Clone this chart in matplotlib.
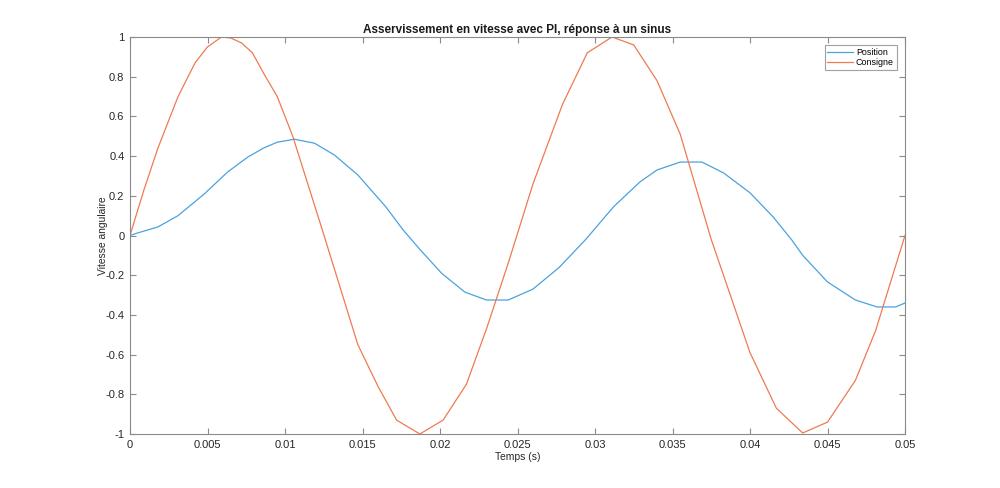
import matplotlib
matplotlib.use("Agg")
import matplotlib.pyplot as plt

# Data
t_pos = [0, 0.0005, 0.0018, 0.0031, 0.0048, 0.0063, 0.0076, 0.0086, 0.0095, 0.0106,
         0.0119, 0.0132, 0.0147, 0.0165, 0.0176, 0.0187, 0.0201, 0.0216, 0.0230, 0.0244,
         0.0260, 0.0277, 0.0294, 0.0312, 0.0329, 0.0340, 0.0355, 0.0369, 0.0383, 0.0400,
         0.0415, 0.0427, 0.0434, 0.0450, 0.0468, 0.0482, 0.0494, 0.0500]
position = [0, 0.013, 0.043, 0.10, 0.21, 0.32, 0.395, 0.44, 0.47, 0.485,
            0.465, 0.405, 0.305, 0.145, 0.03, -0.07, -0.19, -0.285, -0.325, -0.325,
            -0.27, -0.16, -0.02, 0.145, 0.27, 0.33, 0.37, 0.37, 0.315, 0.215,
            0.093, -0.023, -0.10, -0.234, -0.325, -0.36, -0.36, -0.34]

t_cons = [0, 0.0009, 0.0018, 0.0031, 0.0042, 0.0050, 0.0059, 0.0065, 0.0072, 0.0079, 0.0086,
          0.0095, 0.0105, 0.0124, 0.0147, 0.0160, 0.0172, 0.0187, 0.0202, 0.0217, 0.0230,
          0.0244, 0.0260, 0.0279, 0.0295, 0.0311, 0.0325, 0.0340, 0.0355, 0.0375, 0.0400,
          0.0417, 0.0434, 0.0450, 0.0468, 0.0481, 0.0500]
consigne = [0, 0.23, 0.44, 0.70, 0.87, 0.95, 1.0, 0.995, 0.97, 0.92, 0.82,
            0.70, 0.50, 0.03, -0.55, -0.76, -0.93, -1.0, -0.93, -0.75, -0.47,
            -0.14, 0.26, 0.66, 0.92, 1.0, 0.96, 0.78, 0.51, -0.02, -0.59,
            -0.87, -0.995, -0.94, -0.73, -0.48, 0.0]

xticks = [0, 0.005, 0.01, 0.015, 0.02, 0.025, 0.03, 0.035, 0.04, 0.045, 0.05]
xticklabels = ["0", "0.005", "0.01", "0.015", "0.02", "0.025", "0.03", "0.035", "0.04", "0.045", "0.05"]
yticks = [-1, -0.8, -0.6, -0.4, -0.2, 0, 0.2, 0.4, 0.6, 0.8, 1]
yticklabels = ["-1", "-0.8", "-0.6", "-0.4", "-0.2", "0", "0.2", "0.4", "0.6", "0.8", "1"]

plt.rcParams['font.family'] = ['Liberation Sans', 'DejaVu Sans']

fig = plt.figure(figsize=(10, 4.88), dpi=100)
ax = fig.add_axes([0.13, 1 - 434 / 488, 0.775, (434 - 37) / 488])

ax.plot(t_pos, position, color='#4aa2de', lw=0.9, label='Position')
ax.plot(t_cons, consigne, color='#ef7a50', lw=0.9, label='Consigne')

ax.set_xlim(0, 0.05)
ax.set_ylim(-1, 1)
ax.set_xticks(xticks)
ax.set_xticklabels(xticklabels)
ax.set_yticks(yticks)
ax.set_yticklabels(yticklabels)

spine_col = '#8a8a8a'
for s in ax.spines.values():
    s.set_color(spine_col)
    s.set_linewidth(0.8)
ax.tick_params(direction='in', length=4, width=0.8, color=spine_col,
               labelsize=8, labelcolor='#262626', top=True, right=True, pad=4)

ax.set_title('Asservissement en vitesse avec PI, réponse à un sinus',
             fontsize=8.5, fontweight='bold', color='#1a1a1a', pad=3)
ax.set_xlabel('Temps (s)', fontsize=7.4, color='#262626', labelpad=2)
ax.set_ylabel('Vitesse angulaire', fontsize=7.4, color='#262626', labelpad=-2)

leg = ax.legend(loc='upper right', fontsize=6.4, frameon=True, fancybox=False,
                edgecolor='#8a8a8a', borderpad=0.3, handlelength=2.9,
                handletextpad=0.3, labelspacing=0.15, borderaxespad=0.95)
leg.get_frame().set_linewidth(0.8)

fig.savefig('out.png', dpi=100)
